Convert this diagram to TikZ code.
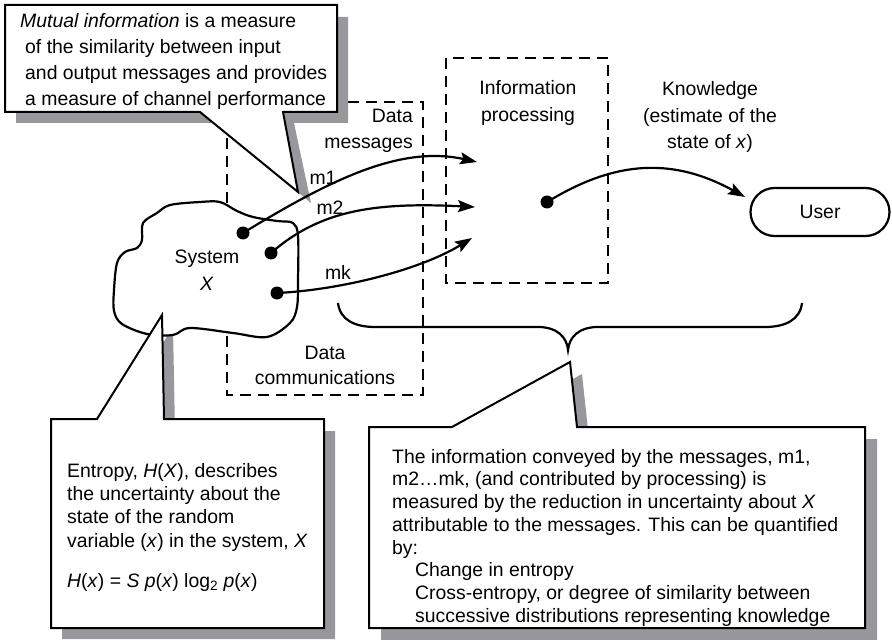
\documentclass[tikz,border=0pt]{standalone}
\usepackage{fontspec}
\setmainfont{Liberation Sans}
\usetikzlibrary{arrows.meta,shapes.misc}
\definecolor{shade}{RGB}{152,152,156}
\tikzset{
  txt/.style={font=\fontsize{19.4bp}{26bp}\selectfont, inner sep=0pt, align=center},
  boxtxt/.style={font=\fontsize{19.4bp}{23bp}\selectfont, inner sep=0pt, align=left, anchor=north west},
  dotnode/.style={circle, fill=black, inner sep=0pt, minimum size=13bp},
  msg/.style={line width=2.2bp, -{Stealth[length=17bp,width=12bp,inset=3bp]}},
  dashbox/.style={draw, line width=2.2bp, dash pattern=on 11bp off 7bp},
  callout/.style={draw, fill=white, line width=2bp, line join=miter},
  shadowfill/.style={fill=shade},
}
\begin{document}
\begin{tikzpicture}[x=1bp,y=-1bp]
\useasboundingbox (0,0) rectangle (892,640);

% dashed stage boxes
\draw[dashbox] (227,102) rectangle (423,395);
\draw[dashbox] (446,58) rectangle (608,283);

% drop shadows of the three callouts
\fill[shadowfill] (16,17) -- (348,17) -- (348,123) -- (294,123) -- (311,203)
  -- (214,123) -- (16,123) -- cycle;
\fill[shadowfill] (62,431) -- (108,431) -- (173,327) -- (175,431) -- (335,431)
  -- (335,639) -- (62,639) -- cycle;
\fill[shadowfill] (381,439) -- (464,439) -- (582,374) -- (589,439) -- (877,439)
  -- (877,641) -- (381,641) -- cycle;

% the system under observation
\draw[line width=2.2bp, fill=white] plot[smooth cycle, tension=0.55] coordinates {
  (143,223) (157,213) (170,205) (200,202) (220,202) (237,211) (253,217)
  (277,221) (293,223) (298,236) (298,280) (297,307) (290,323) (267,337)
  (233,333) (190,328) (173,335) (147,334) (122,324) (114,311) (114,290)
  (117,263) (125,252) (137,248) (142,240)};

% callouts
\path[callout] (5,5) -- (337,5) -- (337,112) -- (283,112) -- (298,192)
  -- (200,112) -- (5,112) -- cycle;
\path[callout] (51,419) -- (97,419) -- (162,315) -- (164,419) -- (324,419)
  -- (324,628) -- (51,628) -- cycle;
\path[callout] (369,427) -- (452,427) -- (570,362) -- (577,427) -- (865,427)
  -- (865,628) -- (369,628) -- cycle;

% brace grouping communication and processing
\draw[line width=2.2bp] (338,303) .. controls (340,320) and (355,327) .. (375,327)
  -- (538,327) .. controls (558,327) and (567,338) .. (568,350)
  .. controls (569,338) and (578,327) .. (598,327)
  -- (765,327) .. controls (785,327) and (800,320) .. (802,303);

% message sources and processing point
\node[dotnode] (d1) at (243,233) {};
\node[dotnode] (d2) at (271,253) {};
\node[dotnode] (dk) at (277,293) {};
\node[dotnode] (dp) at (547,202) {};
\node[txt, draw, line width=2.2bp, shape=rounded rectangle, minimum width=139bp,
      minimum height=48bp] (user) at (820,212) {User};

\coordinate (e1) at (477,162);
\coordinate (e2) at (475,207);
\coordinate (ek) at (472,238);
\coordinate (eu) at (745,197);

\draw[msg] (d1.center) .. controls (330,180) and (400,145) .. (e1);
\draw[msg] (d2.center) .. controls (320,210) and (375,202) .. (e2);
\draw[msg] (dk.center) .. controls (340,290) and (420,270) .. (ek);
\draw[msg] (dp.center) .. controls (600,170) and (660,150) .. (eu);

% labels
\node[txt] (m1) at (323,178) {m1};
\node[txt] (m2) at (330,208) {m2};
\node[txt] (mk) at (338,272) {mk};
\node[txt, font=\fontsize{19.4bp}{27bp}\selectfont] (sys) at (207,270) {System\\\textit{X}};
\node[txt, font=\fontsize{19.4bp}{25bp}\selectfont] (dcom) at (325,365) {Data\\communications};
\node[txt, align=right, anchor=east] (dmsg) at (413,131) {Data\\messages};
\node[txt, font=\fontsize{19.4bp}{27bp}\selectfont] (iproc) at (528,103) {Information\\processing};
\node[txt, font=\fontsize{19.4bp}{26.5bp}\selectfont] (know) at (710,117)
  {Knowledge\\(estimate of the\\state of \textit{x})};

\node[boxtxt, font=\fontsize{19.4bp}{26bp}\selectfont] (mi) at (20,13)
  {\textit{Mutual information} is a measure\\
   \hspace*{5bp}of the similarity between input\\
   \hspace*{5bp}and output messages and provides\\
   \hspace*{5bp}a measure of channel performance};

\node[boxtxt, font=\fontsize{19.4bp}{23.3bp}\selectfont] (ent) at (67,463)
  {Entropy, \textit{H}(\textit{X}), describes\\
   the uncertainty about the\\
   state of the random\\
   variable (\textit{x}) in the system, \textit{X}\\[17bp]
   \textit{H}(\textit{x}) = \textit{S p}(\textit{x}) log\textsubscript{2} \textit{p}(\textit{x})};

\node[boxtxt, font=\fontsize{19.4bp}{22.7bp}\selectfont] (info) at (392,449)
  {The information conveyed by the messages, m1,\\
   m2…mk, (and contributed by processing) is\\
   measured by the reduction in uncertainty about \textit{X}\\
   attributable to the messages. This can be quantified\\
   by:\\
   \hspace*{23bp}Change in entropy\\
   \hspace*{23bp}Cross-entropy, or degree of similarity between\\
   \hspace*{23bp}successive distributions representing knowledge};
\end{tikzpicture}
\end{document}
